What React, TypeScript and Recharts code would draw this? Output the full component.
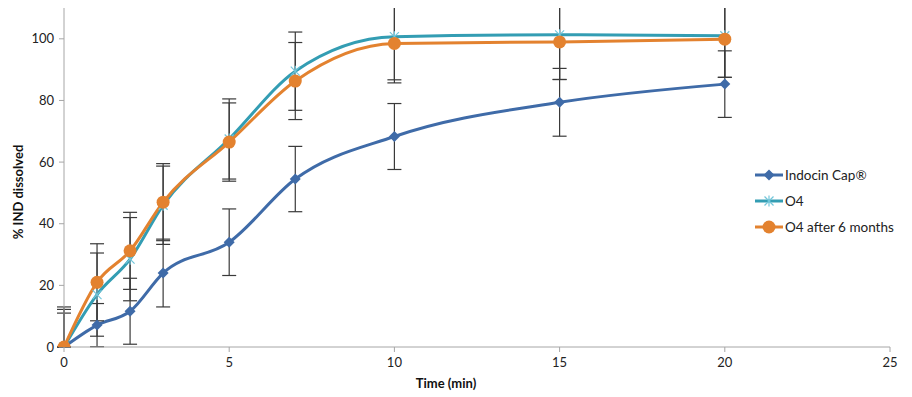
import { LineChart, Line, XAxis, YAxis, ErrorBar } from "recharts"

// time points (min)
const times = [0, 1, 2, 3, 5, 7, 10, 15, 20]

// % IND dissolved
const indocin = [0, 7.1, 11.6, 24, 34, 54.5, 68.3, 79.4, 85.3]
const o4 = [0, 17, 28.5, 46, 67.5, 89.5, 100.7, 101.3, 101]
const o4Aged = [0, 21, 31.2, 47, 66.5, 86.3, 98.5, 99, 99.9]

// standard deviations
const indocinSd = [13, 7, 10.7, 11, 10.8, 10.6, 10.7, 11, 10.8]
const o4Sd = [12.2, 13.5, 13.5, 12.7, 13, 12.7, 14, 14.5, 13.5]
const o4AgedSd = [11, 12.5, 12.5, 12.5, 12.7, 12.5, 12.8, 12.2, 12.4]

const xTicks = [0, 5, 10, 15, 20, 25]
const yTicks = [0, 20, 40, 60, 80, 100]

// error bars are cut at the x axis, as in the original
const err = (v: number, sd: number) => [Math.min(v, sd), sd]

const data = times.map((t, i) => ({
  time: t,
  indocin: indocin[i],
  o4: o4[i],
  o4Aged: o4Aged[i],
  indocinSd: err(indocin[i], indocinSd[i]),
  o4Sd: err(o4[i], o4Sd[i]),
  o4AgedSd: err(o4Aged[i], o4AgedSd[i]),
}))

const BLUE = "#3F6BA8"
const TEAL = "#339DB3"
const TEAL_MARK = "#72C6DA"
const ORANGE = "#E3822F"
const FONT = "Lato, 'Open Sans', sans-serif"

const Diamond = (props: any) => {
  const { cx, cy } = props
  if (cx == null || cy == null) return null
  return <path d={`M${cx},${cy - 5.5}L${cx + 5.5},${cy}L${cx},${cy + 5.5}L${cx - 5.5},${cy}Z`} fill={BLUE} />
}

const Star = (props: any) => {
  const { cx, cy } = props
  if (cx == null || cy == null) return null
  const r = 4.5
  return (
    <g stroke={TEAL_MARK} strokeWidth={1.2}>
      <line x1={cx - r} y1={cy - r} x2={cx + r} y2={cy + r} />
      <line x1={cx - r} y1={cy + r} x2={cx + r} y2={cy - r} />
      <line x1={cx} y1={cy - r - 1} x2={cx} y2={cy + r + 1} />
    </g>
  )
}

const Circle = (props: any) => {
  const { cx, cy } = props
  if (cx == null || cy == null) return null
  return <circle cx={cx} cy={cy} r={6.5} fill={ORANGE} />
}

const legendItems = [
  { name: "Indocin Cap®", color: BLUE, Mark: Diamond },
  { name: "O4", color: TEAL, Mark: Star },
  { name: "O4 after 6 months", color: ORANGE, Mark: Circle },
]

const ChartLegend = () => (
  <svg width={150} height={70} style={{ position: "absolute", left: 745, top: 157 }}>
    {legendItems.map((it, i) => {
      const y = 10 + i * 26
      const M = it.Mark
      return (
        <g key={it.name}>
          <line x1={2} y1={y} x2={30} y2={y} stroke={it.color} strokeWidth={3} />
          <M cx={16} cy={y} />
          <text x={32} y={y + 4.5} fontSize={13.5} fill="#222" fontFamily={FONT}>
            {it.name}
          </text>
        </g>
      )
    })}
  </svg>
)

export default function App() {
  return (
    <div style={{ position: "relative", width: 896, height: 389 }}>
      <LineChart width={896} height={389} data={data} margin={{ top: 0, right: 14, bottom: 0, left: 0 }}>
        <XAxis
          dataKey="time"
          type="number"
          domain={[0, 25]}
          ticks={xTicks}
          stroke="#A6A6A6"
          tickSize={5}
          height={50}
          tick={{ fill: "#222", fontSize: 13, fontFamily: FONT, dy: 4 }}
          label={(p: any) => (
            <text
              x={p.viewBox.x + p.viewBox.width / 2 - 31}
              y={p.viewBox.y + 41}
              textAnchor="middle"
              fontWeight="bold"
              fontSize={13}
              fill="#111"
              fontFamily={FONT}
            >
              Time (min)
            </text>
          )}
        />
        <YAxis
          type="number"
          domain={[0, 110]}
          ticks={yTicks}
          allowDataOverflow
          width={56}
          stroke="#A6A6A6"
          tickSize={5}
          tick={{ fill: "#222", fontSize: 13, fontFamily: FONT, dx: -3 }}
          label={() => (
            <text
              x={10}
              y={184}
              transform="rotate(-90 10 184)"
              textAnchor="middle"
              dominantBaseline="central"
              fontWeight="bold"
              fontSize={13}
              fill="#111"
              fontFamily={FONT}
            >
              % IND dissolved
            </text>
          )}
        />
        <Line
          dataKey="indocin"
          type="monotone"
          stroke={BLUE}
          strokeWidth={3}
          dot={<Diamond />}
          activeDot={false}
          isAnimationActive={false}
        >
          <ErrorBar dataKey="indocinSd" width={7} stroke="#3A3A3A" strokeWidth={1.2} direction="y" />
        </Line>
        <Line
          dataKey="o4"
          type="monotone"
          stroke={TEAL}
          strokeWidth={3}
          dot={<Star />}
          activeDot={false}
          isAnimationActive={false}
        >
          <ErrorBar dataKey="o4Sd" width={7} stroke="#3A3A3A" strokeWidth={1.2} direction="y" />
        </Line>
        <Line
          dataKey="o4Aged"
          type="monotone"
          stroke={ORANGE}
          strokeWidth={3}
          dot={<Circle />}
          activeDot={false}
          isAnimationActive={false}
        >
          <ErrorBar dataKey="o4AgedSd" width={7} stroke="#3A3A3A" strokeWidth={1.2} direction="y" />
        </Line>
      </LineChart>
      <ChartLegend />
    </div>
  )
}
